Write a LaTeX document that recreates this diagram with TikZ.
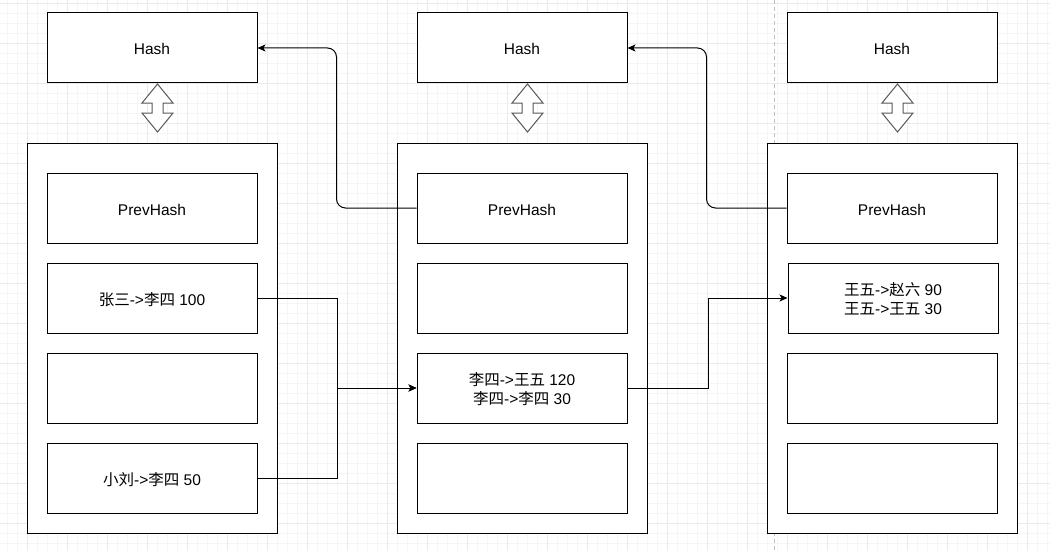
\documentclass[tikz,border=0pt]{standalone}
\usepackage{fontspec}
\setmainfont{Liberation Sans}
\newfontfamily\cjk{Noto Sans CJK SC}
\usetikzlibrary{arrows.meta}

\tikzset{
  gridminor/.style={draw=black!4, line width=0.8pt},
  gridmajor/.style={draw=black!8, line width=0.8pt},
  guide/.style={draw=black!25, line width=1pt, dash pattern=on 4pt off 3pt},
  block/.style={draw=black, line width=1pt, fill=white, minimum width=250pt, minimum height=390pt, inner sep=0pt},
  cell/.style={draw=black, line width=1pt, fill=white, minimum width=210pt, minimum height=70pt, inner sep=0pt,
    align=center, text height=14.5pt, text depth=0.5pt, font=\fontsize{15.5}{18.5}\selectfont},
  twoline/.style={text height=33pt},
  linkarrow/.style={draw=black!65, line width=1pt, fill=white, line join=miter},
  conn/.style={draw=black, line width=1pt, -{Stealth[length=8pt,width=7pt,inset=2pt]}},
  back/.style={conn, rounded corners=9pt},
}

\begin{document}
\begin{tikzpicture}[x=1pt, y=-1pt]
  \useasboundingbox[fill=white] (0,0) rectangle (1050,551);

  % background grid
  \foreach \gx in {7,17,...,1047} \draw[gridminor] (\gx,0) -- (\gx,551);
  \foreach \gy in {3,13,...,551} \draw[gridminor] (0,\gy) -- (1050,\gy);
  \foreach \gx in {27,67,...,1047} \draw[gridmajor] (\gx,0) -- (\gx,551);
  \foreach \gy in {3,43,...,551} \draw[gridmajor] (0,\gy) -- (1050,\gy);

  % page break guide
  \draw[guide] (774.5,0) -- (774.5,551);

  % block frames
  \node[block] (k1) at (152,338) {};
  \node[block] (k2) at (522,338) {};
  \node[block] (k3) at (892,338) {};

  % hash cells
  \node[cell] (h1) at (152,48) {Hash};
  \node[cell] (h2) at (522,48) {Hash};
  \node[cell] (h3) at (892,48) {Hash};

  % hash <-> block arrows
  \foreach \dx in {0,370,740}
    \draw[linkarrow, shift={(\dx,0)}]
      (157.5,84) -- (173,103) -- (163,103) -- (163,113) -- (173,113) -- (157.5,132)
      -- (142,113) -- (152,113) -- (152,103) -- (142,103) -- cycle;

  % block 1
  \node[cell] (p1) at (152,208) {PrevHash};
  \node[cell] (a1) at (152,298) {{\cjk 张三}->{\cjk 李四} 100};
  \node[cell] (a2) at (152,388) {};
  \node[cell] (a3) at (152,478) {{\cjk 小刘}->{\cjk 李四} 50};

  % block 2
  \node[cell] (p2) at (522,208) {PrevHash};
  \node[cell] (b1) at (522,298) {};
  \node[cell, twoline] (b2) at (522,388) {{\cjk 李四}->{\cjk 王五} 120\\{\cjk 李四}->{\cjk 李四} 30};
  \node[cell] (b3) at (522,478) {};

  % block 3
  \node[cell] (p3) at (892,208) {PrevHash};
  \node[cell, twoline] (c1) at (893,298) {{\cjk 王五}->{\cjk 赵六} 90\\{\cjk 王五}->{\cjk 王五} 30};
  \node[cell] (c2) at (892,388) {};
  \node[cell] (c3) at (892,478) {};

  % previous-hash links
  \draw[back] (p2.west) -- ++(-80,0) |- (h1.east);
  \draw[back] (p3.west) -- ++(-80,0) |- (h2.east);

  % transaction flows
  \draw[conn] (a1.east) -- ++(80,0) |- (b2.west);
  \draw[conn] (a3.east) -- ++(80,0) |- (b2.west);
  \draw[conn] (b2.east) -- ++(81,0) |- (c1.west);
\end{tikzpicture}
\end{document}
